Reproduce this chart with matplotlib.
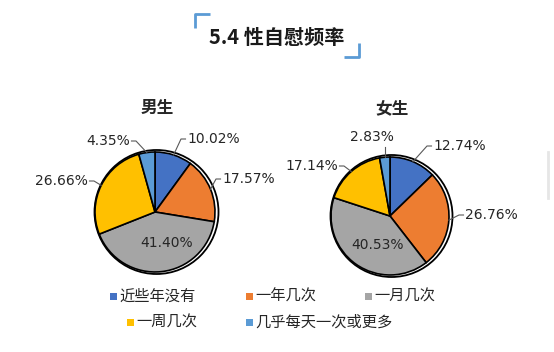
import numpy as np
import matplotlib
matplotlib.use("Agg")
import matplotlib.pyplot as plt
from matplotlib.patches import Circle, Rectangle

plt.rcParams['font.family'] = ['Noto Sans CJK SC', 'DejaVu Sans']

# 数据
categories = ['近些年没有', '一年几次', '一月几次', '一周几次', '几乎每天一次或更多']
colors = ['#4472C4', '#ED7D31', '#A5A5A5', '#FFC000', '#5B9BD5']
male = [10.02, 17.57, 41.40, 26.66, 4.35]
female = [12.74, 26.76, 40.53, 17.14, 2.83]
groups = ['男生', '女生']

W, H = 554, 352
fig = plt.figure(figsize=(W / 100, H / 100), dpi=100)
ax = fig.add_axes([0, 0, 1, 1])

# 像素坐标 -> 数据坐标（y 向上）
def Y(py):
    return H - py

# 饼图中心、半径（像素）
centers = [(155, 212), (390, 216)]
radius = [60, 59]

# 标签位置: (x, y, ha)，内部标签 ha='center'
label_pos = [
    [(187, 139, 'left'), (222, 179, 'left'), (167, 243, 'center'),
     (88, 181, 'right'), (130, 141, 'right')],
    [(433, 146, 'left'), (465, 215, 'left'), (378, 245, 'center'),
     (338, 166, 'right'), (372, 137, 'top')],
]
num_font = ['DejaVu Sans']

for gi, vals in enumerate([male, female]):
    cx, cy = centers[gi]
    r = radius[gi]
    # 外圈
    ax.add_patch(Circle((cx + 1.5, Y(cy)), r + 2, facecolor='white',
                        edgecolor='black', lw=1.3, zorder=1))
    wedges, _ = ax.pie(vals, colors=colors, startangle=90, counterclock=False,
                       center=(cx, Y(cy)), radius=r,
                       wedgeprops=dict(edgecolor='black', linewidth=1.2))
    for w in wedges:
        w.set_zorder(2)
    ax.text(cx + 2, Y(108), groups[gi], ha='center', va='center',
            fontsize=12, fontweight='bold', color='#262626')

    cum = np.cumsum([0] + vals[:-1])
    for i, v in enumerate(vals):
        mid = 90 - (cum[i] + v / 2) / 100 * 360
        ex = cx + r * np.cos(np.radians(mid))
        ey = Y(cy) + r * np.sin(np.radians(mid))
        tx, ty, ha = label_pos[gi][i]
        txt = f'{v:.2f}%'
        kw = dict(va='center', fontsize=10, color='#262626', zorder=5,
                  family=num_font)
        if ha == 'center':
            ax.text(tx, Y(ty), txt, ha='center', **kw)
            continue
        if ha == 'left':
            pts = [(ex, ey), (tx - 6, Y(ty)), (tx - 1.5, Y(ty))]
            ax.text(tx, Y(ty), txt, ha='left', **kw)
        elif ha == 'right':
            pts = [(ex, ey), (tx + 6, Y(ty)), (tx + 1.5, Y(ty))]
            ax.text(tx, Y(ty), txt, ha='right', **kw)
        else:
            pts = [(ex, ey), (ex, Y(ty + 10))]
            ax.text(tx, Y(ty), txt, ha='center', **kw)
        xs, ys = zip(*pts)
        ax.plot(xs, ys, color='#595959', lw=0.8, zorder=4)

# 标题与括号
ax.text(277, Y(37), '5.4 性自慰频率', ha='center', va='center',
        fontsize=14.5, fontweight='bold', color='#1a1a1a')
ax.plot([195, 195, 210], [Y(28), Y(14), Y(14)], color='#5B9BD5', lw=2,
        solid_capstyle='butt')
ax.plot([344, 359, 359], [Y(57), Y(57), Y(43)], color='#5B9BD5', lw=2,
        solid_capstyle='butt')

# 图例（两行）
legend_pos = [(113, 296), (249, 296), (368, 296), (130, 322), (249, 322)]
for (lx, ly), name, c in zip(legend_pos, categories, colors):
    ax.add_patch(Rectangle((lx - 3.5, Y(ly) - 3.5), 7, 7, facecolor=c,
                           edgecolor='none'))
    ax.text(lx + 6, Y(ly), name, ha='left', va='center', fontsize=11,
            color='#262626')

# 右侧淡灰竖线
ax.plot([548, 548], [Y(152), Y(198)], color='#E6E6E6', lw=2)

ax.set_xlim(0, W)
ax.set_ylim(0, H)
ax.set_aspect('auto')
ax.axis('off')

fig.savefig('out.png', dpi=100, facecolor='white')
